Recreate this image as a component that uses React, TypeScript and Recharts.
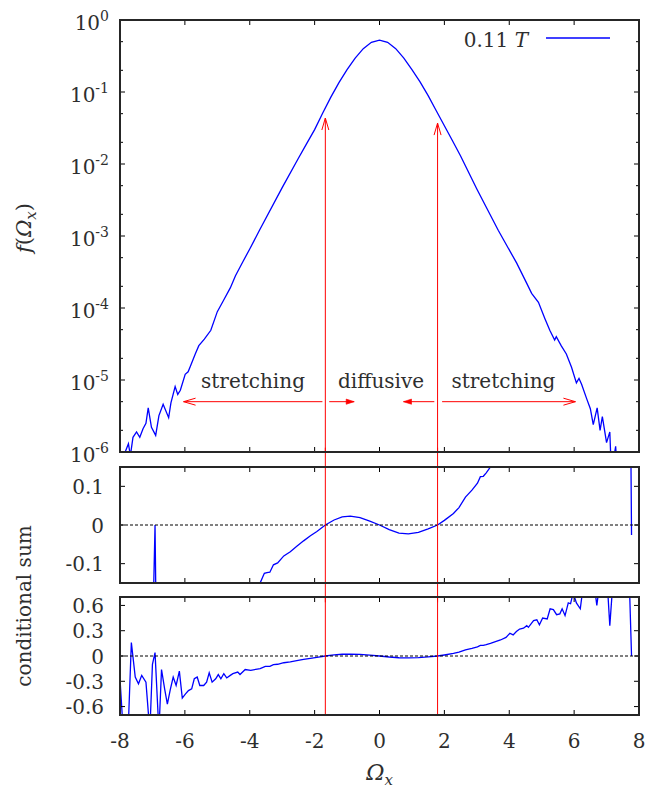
import {
  Legend,
  Line,
  LineChart,
  ReferenceDot,
  ReferenceLine,
  XAxis,
  YAxis,
} from "recharts";

// --- data ---------------------------------------------------------------

// f(Omega_x), PDF of the vorticity component (log axis)
const omegaPdf = [
  -8.0, -7.9, -7.84, -7.74, -7.68, -7.6, -7.49, -7.39, -7.29, -7.2, -7.13, -7.03,
  -6.9, -6.8, -6.67, -6.5, -6.43, -6.3, -6.22, -6.14, -5.99, -5.9, -5.83, -5.68,
  -5.57, -5.4, -5.2, -5.0, -4.84, -4.6, -4.44, -4.2, -4.0, -3.7, -3.0, -2.5,
  -2.25, -2.0, -1.75, -1.5, -1.25, -1.0, -0.75, -0.5, -0.25, 0, 0.25, 0.5, 0.75,
  1.0, 1.25, 1.5, 1.75, 2.0, 2.25, 2.5, 3.0, 3.66, 4.23, 4.54, 4.69, 4.9, 5.1,
  5.25, 5.4, 5.45, 5.6, 5.76, 5.92, 6.07, 6.15, 6.23, 6.38, 6.5, 6.59, 6.71, 6.8,
  6.87, 7.0, 7.1, 7.15, 7.28, 7.35, 7.5,
];
const pdf = [
  4.0e-7, 7.9e-7, 1.0e-6, 1.3e-6, 8.9e-7, 1.6e-6, 1.9e-6, 1.6e-6, 2.1e-6, 2.5e-6, 4.1e-6, 2.2e-6,
  1.7e-6, 3.2e-6, 4.6e-6, 3.0e-6, 4.8e-6, 8.1e-6, 6.3e-6, 7.2e-6, 1.2e-5, 1.3e-5, 1.55e-5, 2.3e-5,
  3.0e-5, 3.7e-5, 4.9e-5, 8.9e-5, 1.2e-4, 1.9e-4, 2.8e-4, 4.5e-4, 6.6e-4, 1.2e-3, 4.7e-3, 1.2e-2,
  1.9e-2, 3.0e-2, 5.1e-2, 8.5e-2, 0.135, 0.204, 0.295, 0.4, 0.49, 0.525, 0.49, 0.4, 0.295,
  0.204, 0.138, 0.089, 0.055, 0.034, 0.021, 0.0129, 4.5e-3, 1.2e-3, 4.2e-4, 2.2e-4, 1.6e-4, 1.2e-4, 7.1e-5,
  4.9e-5, 3.6e-5, 4.0e-5, 3.0e-5, 2.3e-5, 1.5e-5, 9.1e-6, 1.05e-5, 8.7e-6, 5.6e-6, 4.0e-6, 2.4e-6, 4.1e-6, 2.0e-6,
  3.1e-6, 1.35e-6, 1.9e-6, 5e-7, 1.2e-6, 4e-7, 2.5e-7,
];

// conditional sum, zoomed panel
const omegaMid = [
  -8.0, -7.05, -6.92, -6.85, -3.8, -3.68, -3.55, -3.47, -3.38, -3.27, -3.14, -2.95,
  -2.75, -2.55, -2.34, -2.13, -1.93, -1.67, -1.4, -1.15, -0.9, -0.6, -0.3, 0, 0.3,
  0.6, 0.89, 1.2, 1.5, 1.79, 2.0, 2.28, 2.45, 2.65, 2.85, 3.02, 3.11, 3.2, 3.29,
  3.42, 3.6, 7.72, 7.77,
];
const condMid = [
  -0.5, -0.5, 0, -0.5, -0.3, -0.15, -0.125, -0.123, -0.122, -0.103, -0.098, -0.08,
  -0.069, -0.055, -0.041, -0.028, -0.017, 0, 0.013, 0.021, 0.023, 0.019, 0.01, 0, -0.012,
  -0.021, -0.023, -0.019, -0.01, 0, 0.012, 0.03, 0.045, 0.072, 0.09, 0.108, 0.125, 0.126, 0.135,
  0.15, 0.2, 0.5, -0.026,
];

// conditional sum, full panel
const omegaLow = [
  -8.0, -7.9, -7.75, -7.65, -7.53, -7.43, -7.33, -7.2, -7.08, -7.0, -6.92, -6.8,
  -6.72, -6.62, -6.54, -6.45, -6.36, -6.27, -6.17, -6.08, -5.98, -5.89, -5.79, -5.71,
  -5.62, -5.54, -5.42, -5.33, -5.25, -5.16, -5.05, -4.97, -4.89, -4.8, -4.71, -4.6,
  -4.52, -4.37, -4.3, -4.14, -3.97, -3.77, -3.68, -3.52, -3.38, -3.27, -3.14, -2.95,
  -2.75, -2.55, -2.34, -2.13, -1.93, -1.67, -1.4, -1.15, -0.9, -0.6, -0.3, 0, 0.3,
  0.6, 0.89, 1.2, 1.5, 1.79, 2.0, 2.28, 2.45, 2.65, 2.85, 3.02, 3.11, 3.2, 3.29, 3.42,
  3.73, 3.9, 4.02, 4.12, 4.22, 4.32, 4.44, 4.54, 4.59, 4.75, 4.85, 4.93, 5.03, 5.17,
  5.26, 5.36, 5.46, 5.56, 5.63, 5.72, 5.82, 5.89, 5.97, 6.07, 6.19, 6.27, 6.4, 6.6,
  6.7, 6.8, 7.0, 7.1, 7.2, 7.5, 7.7, 7.77,
];
const condLow = [
  -0.27, -0.9, -0.9, 0.16, -0.25, -0.33, -0.23, -0.31, -0.9, -0.1, 0.04, -0.9,
  -0.16, -0.4, -0.57, -0.4, -0.25, -0.35, -0.18, -0.5, -0.45, -0.41, -0.39, -0.27,
  -0.25, -0.35, -0.35, -0.31, -0.2, -0.31, -0.27, -0.22, -0.27, -0.21, -0.26, -0.23,
  -0.21, -0.19, -0.22, -0.16, -0.17, -0.155, -0.15, -0.123, -0.122, -0.103, -0.098, -0.08,
  -0.069, -0.055, -0.041, -0.028, -0.017, 0, 0.013, 0.021, 0.023, 0.019, 0.01, 0, -0.012,
  -0.021, -0.023, -0.019, -0.01, 0, 0.012, 0.03, 0.045, 0.072, 0.09, 0.108, 0.125, 0.126, 0.135, 0.15,
  0.19, 0.22, 0.27, 0.25, 0.29, 0.32, 0.33, 0.36, 0.34, 0.42, 0.43, 0.37, 0.45, 0.44,
  0.56, 0.55, 0.49, 0.5, 0.56, 0.48, 0.63, 0.62, 0.75, 0.63, 0.56, 0.8, 1.0, 0.9,
  0.6, 0.9, 1.0, 0.36, 0.9, 1.0, 0.9, 0,
];

// ticks
const xTicks = [-8, -6, -4, -2, 0, 2, 4, 6, 8];
const logTicks = [
  1e-6, 2e-6, 5e-6, 1e-5, 2e-5, 5e-5, 1e-4, 2e-4, 5e-4, 1e-3, 2e-3, 5e-3,
  1e-2, 2e-2, 5e-2, 1e-1, 2e-1, 5e-1, 1,
];
const midTicks = [-0.1, 0, 0.1];
const lowTicks = [-0.6, -0.3, 0, 0.3, 0.6];

// annotations: boundaries where the conditional sum changes sign
const boundaries = [-1.67, 1.79];
const boundaryTips = [0.0435, 0.037];
const arrowLevel = 5e-6;
const stretchArrows = [[-1.76, -6.04], [1.93, 6.04]];
const diffusiveArrows = [[-1.55, -0.78], [1.69, 0.74]];
const regionNames = ["stretching", "diffusive", "stretching"];
const regionX = [-3.9, 0.05, 3.82];
const regionLevel = 7.7e-6;
const legendName = "0.11";

const pdfData = omegaPdf.map((x, i) => ({ x, f: pdf[i] }));
const midData = omegaMid.map((x, i) => ({ x, c: condMid[i] }));
const lowData = omegaLow.map((x, i) => ({ x, c: condLow[i] }));

// --- layout & styling ------------------------------------------------------

const W = 648;
const Y_AXIS_W = 120;
const RIGHT = 9;
// panel boxes: chart top, chart height, plot margins top / bottom (incl. x axis)
const panels = {
  top: { top: 0, height: 460, mt: 20, mb: 8 },
  mid: { top: 460, height: 130, mt: 7, mb: 7 },
  low: { top: 590, height: 200, mt: 7, mb: 75 },
};

const FONT = "'DejaVu Serif', serif";
const INK = "#2e2e2e";
const FRAME = "#262626";
const BLUE = "#0000ff";
const RED = "#ff0000";
const BLACK = "#000000";

const isDecade = (v: number) => {
  const lg = Math.log10(v);
  return Math.abs(lg - Math.round(lg)) < 1e-6;
};

function XLabel(props: any) {
  const { x, y, payload } = props;
  return (
    <text x={x} y={y + 33} textAnchor="middle" fontFamily={FONT} fontSize={20} fill={INK}>
      {String(payload.value)}
    </text>
  );
}

function LogLabel(props: any) {
  const { x, y, payload } = props;
  if (!isDecade(payload.value)) return <g />;
  return (
    <text x={x - 11} y={y + 10} textAnchor="end" fontFamily={FONT} fontSize={20} fill={INK}>
      10
      <tspan dy={-9} fontSize={14}>
        {String(Math.round(Math.log10(payload.value)))}
      </tspan>
    </text>
  );
}

function LinLabel(props: any) {
  const { x, y, payload } = props;
  return (
    <text x={x - 16} y={y + 7.5} textAnchor="end" fontFamily={FONT} fontSize={20} fill={INK}>
      {String(payload.value)}
    </text>
  );
}

// line shape: optional head at the second point, or inward ticks at both ends
function segShape(color: string, width: number, head: "open" | "filled" | "none" | "ticks", len = 5) {
  return (p: any) => {
    const { x1, y1, x2, y2 } = p;
    if (head === "ticks") {
      const dx = x2 - x1;
      const dy = y2 - y1;
      const n = Math.hypot(dx, dy) || 1;
      const ux = (dx / n) * len;
      const uy = (dy / n) * len;
      return (
        <g>
          <line x1={x1} y1={y1} x2={x1 + ux} y2={y1 + uy} stroke={color} strokeWidth={width} />
          <line x1={x2 - ux} y1={y2 - uy} x2={x2} y2={y2} stroke={color} strokeWidth={width} />
        </g>
      );
    }
    const a = Math.atan2(y2 - y1, x2 - x1);
    const L = head === "filled" ? 8 : 12;
    const w = head === "filled" ? 2.6 : 3.5;
    const bx = x2 - L * Math.cos(a);
    const by = y2 - L * Math.sin(a);
    const nx = -Math.sin(a) * w;
    const ny = Math.cos(a) * w;
    const d = `M${bx + nx},${by + ny}L${x2},${y2}L${bx - nx},${by - ny}`;
    return (
      <g>
        <line x1={x1} y1={y1} x2={x2} y2={y2} stroke={color} strokeWidth={width} />
        {head === "open" && <path d={d} fill="none" stroke={color} strokeWidth={width} />}
        {head === "filled" && <path d={d + "Z"} fill={color} stroke={color} strokeWidth={0.6} />}
      </g>
    );
  };
}

function tickMarks(yTicks: number[], lo: number, hi: number, minor?: (v: number) => boolean) {
  return [
    ...xTicks.map((t, i) => (
      <ReferenceLine key={`fx${i}`} xAxisId="b" yAxisId="l" ifOverflow="visible"
        segment={[{ x: t, y: lo }, { x: t, y: hi }]} shape={segShape(BLACK, 1, "ticks", 5)} />
    )),
    ...yTicks.map((t, i) => (
      <ReferenceLine key={`fy${i}`} xAxisId="b" yAxisId="l" ifOverflow="visible"
        segment={[{ x: -8, y: t }, { x: 8, y: t }]}
        shape={segShape(BLACK, 1, "ticks", minor && minor(t) ? 3 : 5)} />
    )),
  ];
}

// border box drawn around a panel's plot area
function PlotBox({ p }: { p: { top: number; height: number; mt: number; mb: number } }) {
  return (
    <div
      style={{
        position: "absolute",
        left: Y_AXIS_W - 1,
        top: p.top + p.mt - 1,
        width: W - RIGHT - Y_AXIS_W + 2,
        height: p.height - p.mt - p.mb + 2,
        border: `2px solid ${FRAME}`,
        boxSizing: "border-box",
        pointerEvents: "none",
      }}
    />
  );
}

const regionText = (name: string) => (p: any) => (
  <text x={p.cx} y={p.cy} textAnchor="middle" fontFamily={FONT} fontSize={20} fill={INK}>
    {name}
  </text>
);

const fLabel = (p: any) => {
  const vb = p.viewBox;
  const cx = vb.x + 31;
  const cy = vb.y + vb.height / 2 - 8;
  return (
    <text transform={`rotate(-90 ${cx} ${cy})`} x={cx} y={cy} textAnchor="middle" fontFamily={FONT} fontSize={21} fill={INK}>
      <tspan fontStyle="italic">f</tspan>(<tspan fontStyle="italic">Ω</tspan>
      <tspan fontStyle="italic" fontSize={15} dy={5}>x</tspan>
      <tspan dy={-5}>)</tspan>
    </text>
  );
};

const condLabel = (p: any) => {
  const vb = p.viewBox;
  const cx = vb.x + 31;
  const cy = vb.y + 9;
  return (
    <text transform={`rotate(-90 ${cx} ${cy})`} x={cx} y={cy} textAnchor="middle" fontFamily={FONT} fontSize={20} fill={INK}>
      conditional sum
    </text>
  );
};

const omegaLabel = (p: any) => {
  const vb = p.viewBox;
  return (
    <text x={vb.x + vb.width / 2} y={vb.y + 65} textAnchor="middle" fontFamily={FONT} fontSize={22} fill={INK}>
      <tspan fontStyle="italic">Ω</tspan>
      <tspan fontStyle="italic" fontSize={15} dy={5}>x</tspan>
    </text>
  );
};

const LegendBox = () => (
  <svg width={160} height={30} style={{ display: "block" }}>
    <text x={70} y={22} textAnchor="end" fontFamily={FONT} fontSize={20} fill={INK}>
      {legendName} <tspan fontStyle="italic">T</tspan>
    </text>
    <line x1={88} x2={152} y1={13} y2={13} stroke={BLUE} strokeWidth={1.4} />
  </svg>
);

function xAxis(labels: boolean, height: number, label?: any) {
  return (
    <XAxis xAxisId="b" dataKey="x" type="number" domain={[-8, 8]} ticks={xTicks}
      allowDataOverflow height={height} axisLine={false} tickLine={false}
      tick={labels ? (p: any) => <XLabel {...p} y={p.y - 8} /> : false} label={label} />
  );
}

const margins = (p: { mt: number; mb: number }, axisH: number) => ({
  top: p.mt,
  right: RIGHT,
  bottom: p.mb - axisH,
  left: 0,
});

export default function App() {
  const { top, mid, low } = panels;
  return (
    <div style={{ position: "relative", width: W, height: 790 }}>
      <style>{`body{margin:0} .recharts-surface{overflow:visible}`}</style>

      <div style={{ position: "absolute", left: 0, top: top.top }}>
        <LineChart width={W} height={top.height} data={pdfData} margin={margins(top, 0)}>
          {xAxis(false, 0)}
          <YAxis yAxisId="l" type="number" scale="log" domain={[1e-6, 1]} ticks={logTicks} interval={0}
            allowDataOverflow width={Y_AXIS_W} tickSize={0} tickMargin={0} axisLine={false} tickLine={false}
            tick={(p: any) => <LogLabel {...p} />} label={fLabel} />
          <Legend verticalAlign="middle" align="center" layout="horizontal"
            wrapperStyle={{ left: 458, top: 25, width: 160, height: 30 }} content={() => <LegendBox />} />
          <Line xAxisId="b" yAxisId="l" dataKey="f" type="linear" stroke={BLUE} strokeWidth={1.3}
            dot={false} isAnimationActive={false} />
          {tickMarks(logTicks, 1e-6, 1, (v) => !isDecade(v))}
          {boundaries.map((bx, i) => (
            <ReferenceLine key={`v${i}`} xAxisId="b" yAxisId="l" ifOverflow="visible"
              segment={[{ x: bx, y: 1e-6 }, { x: bx, y: boundaryTips[i] }]} shape={segShape(RED, 1, "open")} />
          ))}
          {stretchArrows.map(([a, b], i) => (
            <ReferenceLine key={`s${i}`} xAxisId="b" yAxisId="l" ifOverflow="visible"
              segment={[{ x: a, y: arrowLevel }, { x: b, y: arrowLevel }]} shape={segShape(RED, 1, "open")} />
          ))}
          {diffusiveArrows.map(([a, b], i) => (
            <ReferenceLine key={`d${i}`} xAxisId="b" yAxisId="l" ifOverflow="visible"
              segment={[{ x: a, y: arrowLevel }, { x: b, y: arrowLevel }]} shape={segShape(RED, 1, "filled")} />
          ))}
          {regionNames.map((name, i) => (
            <ReferenceDot key={`t${i}`} xAxisId="b" yAxisId="l" x={regionX[i]} y={regionLevel} r={0}
              shape={regionText(name)} />
          ))}
        </LineChart>
      </div>

      <div style={{ position: "absolute", left: 0, top: mid.top }}>
        <LineChart width={W} height={mid.height} data={midData} margin={margins(mid, 0)}>
          {xAxis(false, 0)}
          <YAxis yAxisId="l" type="number" domain={[-0.15, 0.15]} ticks={midTicks} interval={0}
            allowDataOverflow width={Y_AXIS_W} tickSize={0} tickMargin={0} axisLine={false} tickLine={false}
            tick={(p: any) => <LinLabel {...p} />} />
          <Line xAxisId="b" yAxisId="l" dataKey="c" type="linear" stroke={BLUE} strokeWidth={1.3}
            dot={false} isAnimationActive={false} />
          <ReferenceLine xAxisId="b" yAxisId="l" y={0} stroke={BLACK} strokeWidth={1} strokeDasharray="3 2" />
          {tickMarks(midTicks, -0.15, 0.15)}
          {boundaries.map((bx, i) => (
            <ReferenceLine key={`v${i}`} xAxisId="b" yAxisId="l" ifOverflow="visible"
              segment={[{ x: bx, y: -0.2 }, { x: bx, y: 0.2 }]} shape={segShape(RED, 1, "none")} />
          ))}
        </LineChart>
      </div>

      <div style={{ position: "absolute", left: 0, top: low.top }}>
        <LineChart width={W} height={low.height} data={lowData} margin={margins(low, 75)}>
          {xAxis(true, 75, omegaLabel)}
          <YAxis yAxisId="l" type="number" domain={[-0.7, 0.7]} ticks={lowTicks} interval={0}
            allowDataOverflow width={Y_AXIS_W} tickSize={0} tickMargin={0} axisLine={false} tickLine={false}
            tick={(p: any) => <LinLabel {...p} />} label={condLabel} />
          <Line xAxisId="b" yAxisId="l" dataKey="c" type="linear" stroke={BLUE} strokeWidth={1.3}
            dot={false} isAnimationActive={false} />
          <ReferenceLine xAxisId="b" yAxisId="l" y={0} stroke={BLACK} strokeWidth={1} strokeDasharray="3 2" />
          {tickMarks(lowTicks, -0.7, 0.7)}
          {boundaries.map((bx, i) => (
            <ReferenceLine key={`v${i}`} xAxisId="b" yAxisId="l" ifOverflow="visible"
              segment={[{ x: bx, y: -0.7 }, { x: bx, y: 0.7 }]} shape={segShape(RED, 1, "none")} />
          ))}
        </LineChart>
      </div>

      <PlotBox p={top} />
      <PlotBox p={mid} />
      <PlotBox p={low} />
    </div>
  );
}
